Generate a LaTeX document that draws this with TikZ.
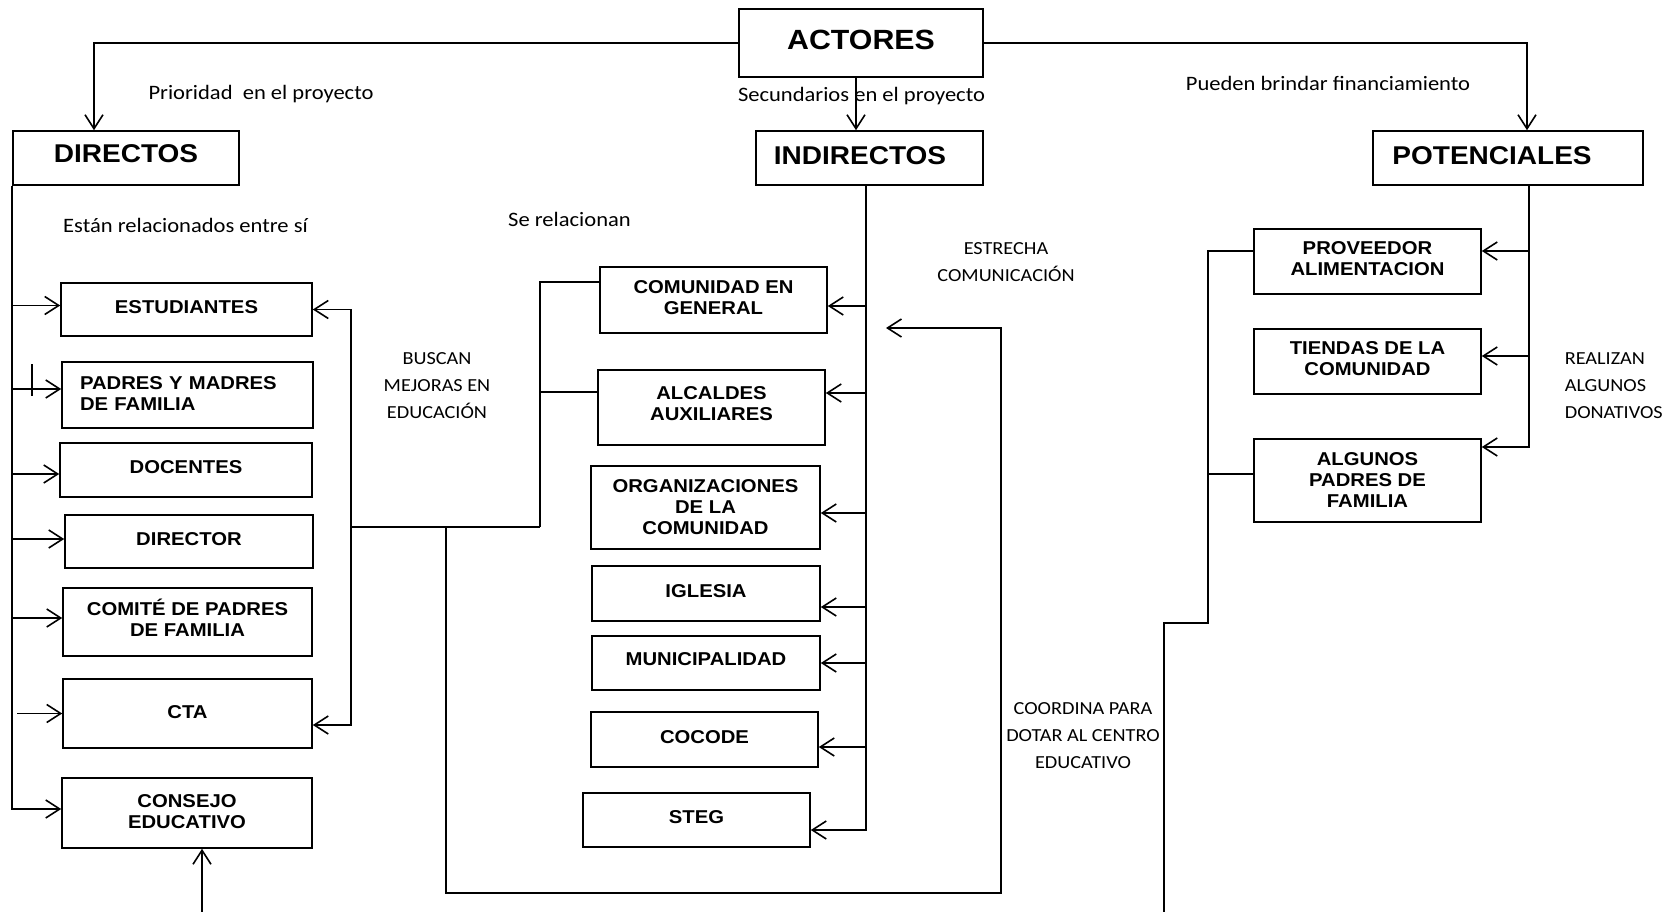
\documentclass[tikz,border=0pt]{standalone}
\usepackage{fontspec}
\usetikzlibrary{arrows.meta,calc}
\newfontfamily\labfont[FakeStretch=1.09]{Liberation Sans}
\newfontfamily\annfont[FakeStretch=1.1]{Carlito}
\begin{document}
\begin{tikzpicture}[x=1pt,y=-1pt,line width=1.6pt,
  box/.style={draw,line width=1.6pt,inner sep=0pt,align=center,text depth=5pt,font=\labfont\bfseries\fontsize{18.6}{21}\selectfont},
  head/.style={box,text depth=5pt,font=\labfont\bfseries\fontsize{25.7}{28}\selectfont},
  arr/.style={-{Straight Barb[length=14pt,width=18pt]}},
  ann/.style={font=\annfont\fontsize{20.5}{24}\selectfont,inner sep=0pt},
  annc/.style={font=\annfont\fontsize{18.4}{27}\selectfont,inner sep=0pt,align=center}]
\fill[white] (0,0) rectangle (1678,912);
\useasboundingbox (0,0) rectangle (1678,912);

% headings
\node[head,minimum width=244pt,minimum height=68pt,text depth=6.5pt,font=\labfont\bfseries\fontsize{27.8}{30}\selectfont] (actores) at (861,43) {ACTORES};
\node[head,minimum width=226pt,minimum height=54pt,text depth=8pt] (directos) at (126,158) {DIRECTOS};
\node[head,minimum width=227pt,minimum height=54pt] (indirectos) at (869.5,158) {INDIRECTOS\hspace*{19pt}};
\node[head,minimum width=270pt,minimum height=54pt] (potenciales) at (1508,158) {POTENCIALES\hspace*{32pt}};

% directos
\node[box,minimum width=251pt,minimum height=53pt] (estudiantes) at (186.5,309.5) {ESTUDIANTES};
\node[box,minimum width=251pt,minimum height=66pt,text width=215pt,align=left,text depth=24pt] (padres) at (187.5,395) {PADRES Y MADRES\\DE FAMILIA};
\node[box,minimum width=252pt,minimum height=54pt] (docentes) at (186,470) {DOCENTES};
\node[box,minimum width=248pt,minimum height=53pt] (director) at (189,541.5) {DIRECTOR};
\node[box,minimum width=249pt,minimum height=68pt,text depth=9pt] (comite) at (187.5,622) {COMITÉ DE PADRES\\DE FAMILIA};
\node[box,minimum width=249pt,minimum height=69pt,text depth=3pt] (cta) at (187.5,713.5) {CTA};
\node[box,minimum width=250pt,minimum height=70pt,text depth=3pt] (consejo) at (187,813) {CONSEJO\\EDUCATIVO};

% indirectos
\node[box,minimum width=227pt,minimum height=66pt,text depth=4pt] (comunidad) at (713.5,300) {COMUNIDAD EN\\GENERAL};
\node[box,minimum width=227pt,minimum height=75pt,text depth=7pt] (alcaldes) at (711.5,407.5) {ALCALDES\\AUXILIARES};
\node[box,minimum width=229pt,minimum height=83pt,text depth=0pt] (organiz) at (705.5,507.5) {ORGANIZACIONES\\DE LA\\COMUNIDAD};
\node[box,minimum width=228pt,minimum height=55pt] (iglesia) at (706,593.5) {IGLESIA};
\node[box,minimum width=228pt,minimum height=54pt,text depth=8pt] (municipalidad) at (706,663) {MUNICIPALIDAD};
\node[box,minimum width=227pt,minimum height=55pt] (cocode) at (704.5,739.5) {COCODE};
\node[box,minimum width=227pt,minimum height=54pt,text depth=6pt] (steg) at (696.5,820) {STEG};

% potenciales
\node[box,minimum width=227pt,minimum height=65pt] (proveedor) at (1367.5,261.5) {PROVEEDOR\\ALIMENTACION};
\node[box,minimum width=227pt,minimum height=65pt,text depth=6pt] (tiendas) at (1367.5,361.5) {TIENDAS DE LA\\COMUNIDAD};
\node[box,minimum width=227pt,minimum height=83pt,text depth=0pt] (algunos) at (1367.5,480.5) {ALGUNOS\\PADRES DE\\FAMILIA};

% top connectors
\draw[arr] (actores.west) -| ([xshift=-32pt]directos.north);
\draw[arr] ([xshift=-5pt]actores.south) -- ([xshift=-13.5pt]indirectos.north);
\draw[arr] (actores.east) -| ([xshift=19pt]potenciales.north);

% directos trunk
\draw[arr] (directos.south west) |- ([yshift=4pt]consejo.west);
\foreach \n/\s in {estudiantes/4,padres/6,docentes/-4,director/2.5,comite/4}{
  \coordinate (tmp) at ([yshift=\s pt]\n.west);
  \draw[arr] (directos.south west |- tmp) -- (tmp);
}
\coordinate (ctaS) at (17,0);
\draw[arr] (ctaS |- cta.west) -- (cta.west);
\draw (32,364) -- (32,396);

% right bracket of directos
\coordinate (estR) at (estudiantes.east);
\coordinate (ctaR) at ([yshift=-11.5pt]cta.east);
\coordinate (bx) at (351,527);
\draw[arr] (bx) |- (estR);
\draw[arr] (bx) |- (ctaR);
\coordinate (mx) at (540,527);
\draw (bx) -- (mx);
\coordinate (comL) at ([yshift=18pt]comunidad.west);
\coordinate (alcL) at ([yshift=15.5pt]alcaldes.west);
\draw (mx) |- (comL);
\draw (mx |- alcL) -- (alcL);
\coordinate (lp) at (446,527);
\coordinate (lpR) at (1001,893);
\coordinate (tipS) at (886,328);
\draw[arr] (lp) |- (lpR) |- (tipS);

% indirectos trunk
\coordinate (it) at ([xshift=-3.5pt]indirectos.south);
\coordinate (sR) at ([yshift=-10pt]steg.east);
\draw[arr] (it) |- (sR);
\foreach \n/\s in {comunidad/-6,alcaldes/14.5,organiz/-5.5,iglesia/-13.5,municipalidad/0,cocode/-7.5}{
  \coordinate (tmp) at ([yshift=\s pt]\n.east);
  \draw[arr] (it |- tmp) -- (tmp);
}

% potenciales trunk
\coordinate (pt) at ([xshift=21pt]potenciales.south);
\coordinate (algR) at ([yshift=33.5pt]algunos.east);
\draw[arr] (pt) |- (algR);
\foreach \n/\s in {proveedor/10.5,tiendas/5.5}{
  \coordinate (tmp) at ([yshift=\s pt]\n.east);
  \draw[arr] (pt |- tmp) -- (tmp);
}
\coordinate (provL) at ([yshift=10.5pt]proveedor.west);
\coordinate (ps) at (1208,623);
\coordinate (pb) at (1164,912);
\draw (provL) -| (ps) -| (pb);
\coordinate (algL) at ([yshift=6.5pt]algunos.west);
\draw (ps |- algL) -- (algL);

% consejo up arrow
\coordinate (cb) at (202,912);
\draw[arr] (cb) -- (cb |- consejo.south);

% annotations
\node[ann] (t1) at (261,94) {Prioridad\ \ en el proyecto};
\node[ann] (t2) at (861.5,96) {Secundarios en el proyecto};
\node[ann] (t3) at (1328,83) {Pueden brindar financiamiento};
\node[ann] (t4) at (185.5,225) {Están relacionados entre sí};
\node[ann] (t5) at (569.5,219) {Se relacionan};
\node[annc] (t6) at (437,386) {BUSCAN\\MEJORAS EN\\EDUCACIÓN};
\node[annc] (t7) at (1006,262) {ESTRECHA\\COMUNICACIÓN};
\node[annc] (t8) at (1083,735.5) {COORDINA PARA\\DOTAR AL CENTRO\\EDUCATIVO};
\node[annc,align=left,anchor=west] (t9) at (1564,386) {REALIZAN\\ALGUNOS\\DONATIVOS};
\end{tikzpicture}
\end{document}
